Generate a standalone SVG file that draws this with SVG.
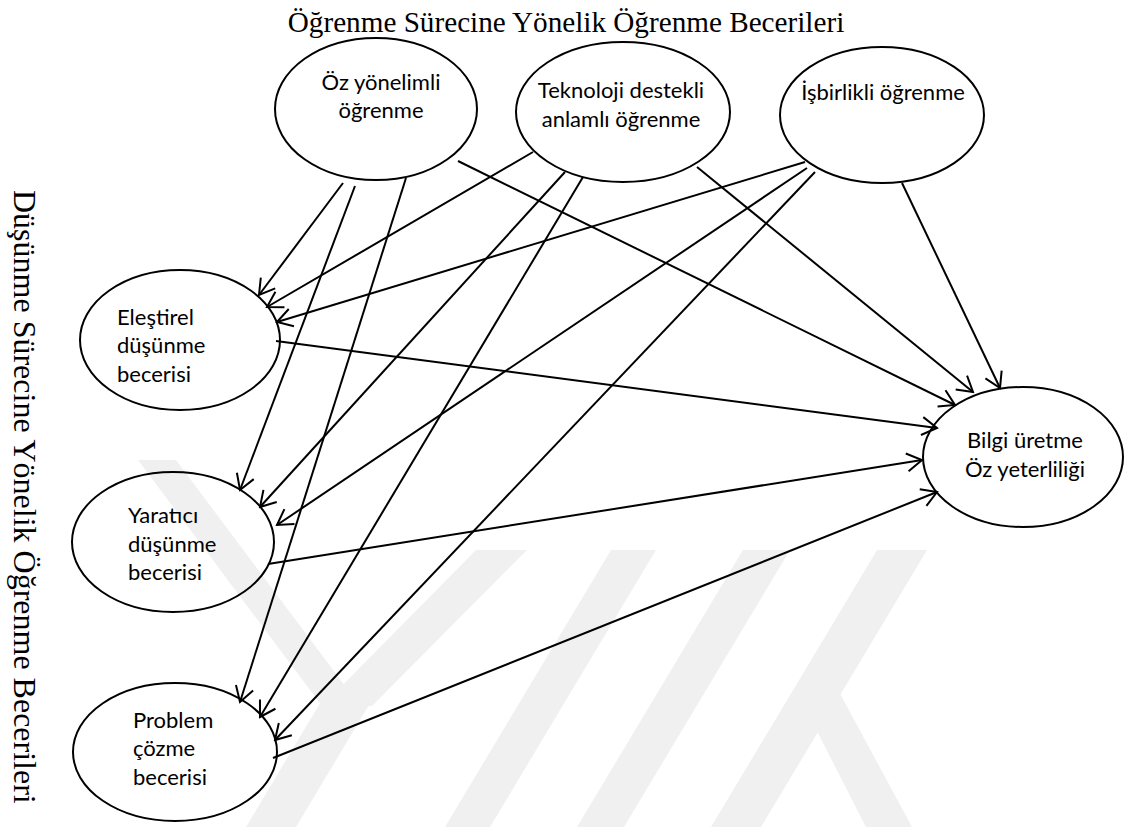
<svg xmlns="http://www.w3.org/2000/svg" width="1131" height="827" viewBox="0 0 1131 827">
  <style>
    .node ellipse { fill: none; stroke: #000000; stroke-width: 2; }
    .node text { font-family: Lato, "Open Sans", sans-serif; font-size: 22px; fill: #000000; }
    .edge { stroke: #000000; stroke-width: 2; fill: none; marker-end: url(#arrow); }
    .heading { font-family: "Liberation Serif", "Times New Roman", serif; fill: #000000; }
    .logo { fill: #f0f0f0; }
  </style>
  <defs>
    <marker id="arrow" markerUnits="userSpaceOnUse" markerWidth="20" markerHeight="22" viewBox="-18 -11 20 22" refX="0" refY="0" orient="auto">
      <path d="M-15,-9 L0,0 L-15,9" fill="none" stroke="#000000" stroke-width="2" stroke-linejoin="miter"/>
    </marker>
  </defs>

  <rect width="1131" height="827" fill="#ffffff"/>

  <!-- faint background logo: slanted letter strokes -->
  <g id="background-logo">
    <polygon class="logo" points="138,460 176,460 360,706 322,706"/>
    <polygon class="logo" points="476,550 527,550 372,706 322,706"/>
    <polygon class="logo" points="322,700 372,700 296,827 246,827"/>
    <polygon class="logo" points="611,550 656,550 490,827 445,827"/>
    <polygon class="logo" points="743,550 790,550 624,827 577,827"/>
    <polygon class="logo" points="877,550 927,550 761,827 711,827"/>
    <polygon class="logo" points="796,690 838,690 912,827 866,827"/>
  </g>

  <!-- headings -->
  <text class="heading" x="566" y="32" font-size="29.2" text-anchor="middle">Öğrenme Sürecine Yönelik Öğrenme Becerileri</text>
  <text class="heading" font-size="32" transform="translate(14,190) rotate(90)">Düşünme Sürecine Yönelik Öğrenme Becerileri</text>

  <!-- connectors -->
  <g id="connectors">
    <line class="edge" x1="343" y1="183" x2="259" y2="295"/>
    <line class="edge" x1="355" y1="186" x2="240" y2="490"/>
    <line class="edge" x1="406" y1="178" x2="240" y2="702"/>
    <line class="edge" x1="458" y1="161" x2="955" y2="405"/>

    <line class="edge" x1="533" y1="152" x2="267" y2="307"/>
    <line class="edge" x1="565" y1="172" x2="260" y2="507"/>
    <line class="edge" x1="583" y1="177" x2="260" y2="717"/>
    <line class="edge" x1="697" y1="167" x2="973" y2="392"/>

    <line class="edge" x1="805" y1="162" x2="277" y2="322"/>
    <line class="edge" x1="807" y1="168" x2="277" y2="525"/>
    <line class="edge" x1="815" y1="172" x2="275" y2="740"/>
    <line class="edge" x1="902" y1="183" x2="1000" y2="388"/>

    <line class="edge" x1="276" y1="341" x2="937" y2="428"/>
    <line class="edge" x1="268" y1="564" x2="922" y2="460"/>
    <line class="edge" x1="273" y1="758" x2="937" y2="492"/>
  </g>

  <!-- nodes -->
  <g id="node-oz-yonelimli" class="node">
    <ellipse cx="376" cy="109" rx="101" ry="71"/>
    <text x="381" y="90" text-anchor="middle">Öz yönelimli</text>
    <text x="381" y="118" text-anchor="middle">öğrenme</text>
  </g>
  <g id="node-teknoloji" class="node">
    <ellipse cx="623" cy="112" rx="107" ry="70"/>
    <text x="621" y="98" text-anchor="middle">Teknoloji destekli</text>
    <text x="621" y="127" text-anchor="middle">anlamlı öğrenme</text>
  </g>
  <g id="node-isbirlikli" class="node">
    <ellipse cx="882" cy="115" rx="102" ry="68"/>
    <text x="883" y="100" text-anchor="middle">İşbirlikli öğrenme</text>
  </g>
  <g id="node-elestirel" class="node">
    <ellipse cx="180" cy="340" rx="100" ry="70"/>
    <text x="117" y="325">Eleştirel</text>
    <text x="117" y="353">düşünme</text>
    <text x="117" y="382">becerisi</text>
  </g>
  <g id="node-yaratici" class="node">
    <ellipse cx="173" cy="542" rx="101" ry="70"/>
    <text x="128" y="523">Yaratıcı</text>
    <text x="128" y="552">düşünme</text>
    <text x="128" y="580">becerisi</text>
  </g>
  <g id="node-problem" class="node">
    <ellipse cx="175" cy="752" rx="102" ry="69"/>
    <text x="133" y="728">Problem</text>
    <text x="133" y="756">çözme</text>
    <text x="133" y="785">becerisi</text>
  </g>
  <g id="node-bilgi" class="node">
    <ellipse cx="1023" cy="457" rx="100" ry="70"/>
    <text x="1025" y="448" text-anchor="middle">Bilgi üretme</text>
    <text x="1025" y="477" text-anchor="middle">Öz yeterliliği</text>
  </g>
</svg>
